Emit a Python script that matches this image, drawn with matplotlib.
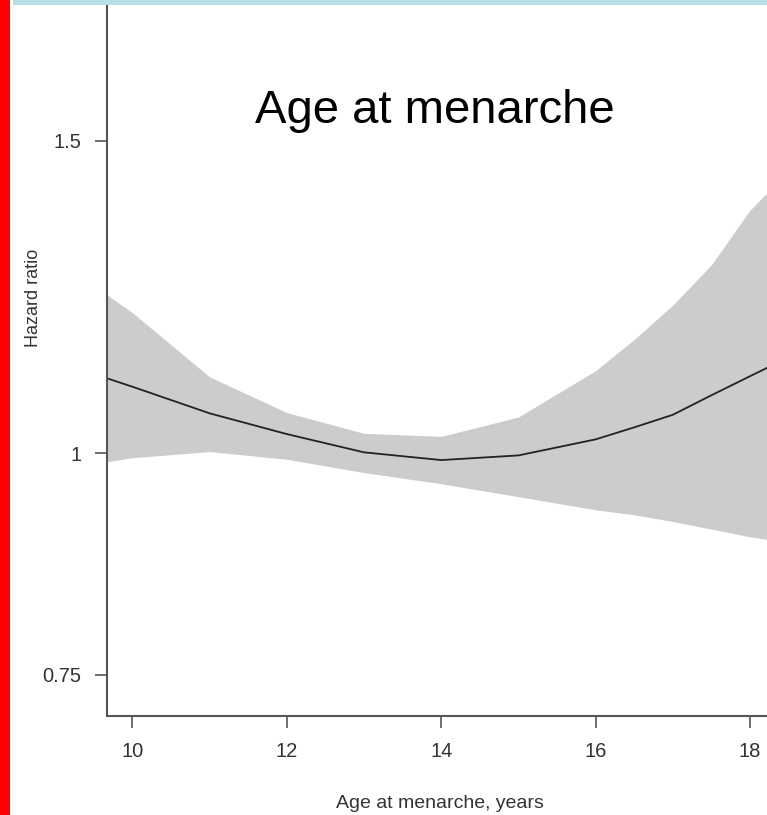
import numpy as np
import matplotlib
matplotlib.use('Agg')
import matplotlib.pyplot as plt
from matplotlib.patches import Rectangle
from matplotlib.ticker import FixedLocator, FixedFormatter, NullLocator

plt.rcParams['font.family'] = ['Liberation Sans', 'DejaVu Sans']

# hazard ratio spline for age at menarche, with 95% band
age = [9.67, 10, 11, 12, 13, 14, 15, 16, 16.5, 17, 17.5, 18, 18.22]
hr = [1.102, 1.090, 1.053, 1.025, 1.001, 0.991, 0.997, 1.018, 1.034, 1.051, 1.078, 1.105, 1.117]
hr_upper = [1.228, 1.200, 1.104, 1.054, 1.026, 1.022, 1.048, 1.113, 1.159, 1.212, 1.277, 1.371, 1.402]
hr_lower = [0.989, 0.994, 1.002, 0.992, 0.975, 0.961, 0.945, 0.929, 0.923, 0.915, 0.906, 0.897, 0.894]

xticks = [10, 12, 14, 16, 18]
yticks = [0.75, 1, 1.5]
ytick_labels = ['0.75', '1', '1.5']

W, H = 767, 815
fig = plt.figure(figsize=(W / 100, H / 100), dpi=100)
ax = fig.add_axes([107 / W, (H - 716) / H, (W - 107) / W, 716 / H])

ax.fill_between(age, hr_lower, hr_upper, color='#cccccc', lw=0)
ax.plot(age, hr, color='#222222', lw=1.3)

ax.set_yscale('log')
ax.set_xlim(9.67, 18.22)
ax.set_ylim(0.7108, 1.801)
ax.yaxis.set_major_locator(FixedLocator(yticks))
ax.yaxis.set_major_formatter(FixedFormatter(ytick_labels))
ax.yaxis.set_minor_locator(NullLocator())
ax.set_xticks(xticks)

for s in ['top', 'right']:
    ax.spines[s].set_visible(False)
for s in ['left', 'bottom']:
    ax.spines[s].set_color('#555555')
    ax.spines[s].set_linewidth(1.5)
ax.tick_params(axis='both', length=8.5, width=1.2, color='#555555',
               labelsize=14.5, labelcolor='#333333')
ax.tick_params(axis='x', pad=10.5)
ax.tick_params(axis='y', pad=10)

fig.text(435 / W, 1 - 123 / H, 'Age at menarche', fontsize=34, color='black',
         ha='center', va='baseline')
fig.text(440 / W, 1 - 808 / H, 'Age at menarche, years', fontsize=14,
         color='#333333', ha='center', va='baseline')
fig.text(33 / W, 1 - 298 / H, 'Hazard ratio', fontsize=13, color='#333333',
         rotation=90, ha='center', va='center')

# red bar on the left and light blue strip along the top
fig.add_artist(Rectangle((0, 0), 10 / W, 1, transform=fig.transFigure,
                         color='#ff0000', lw=0, zorder=10))
fig.add_artist(Rectangle((13 / W, 1 - 5 / H), 1, 5 / H, transform=fig.transFigure,
                         color='#b8dfe3', lw=0, zorder=10))

fig.savefig('out.png', dpi=100)
